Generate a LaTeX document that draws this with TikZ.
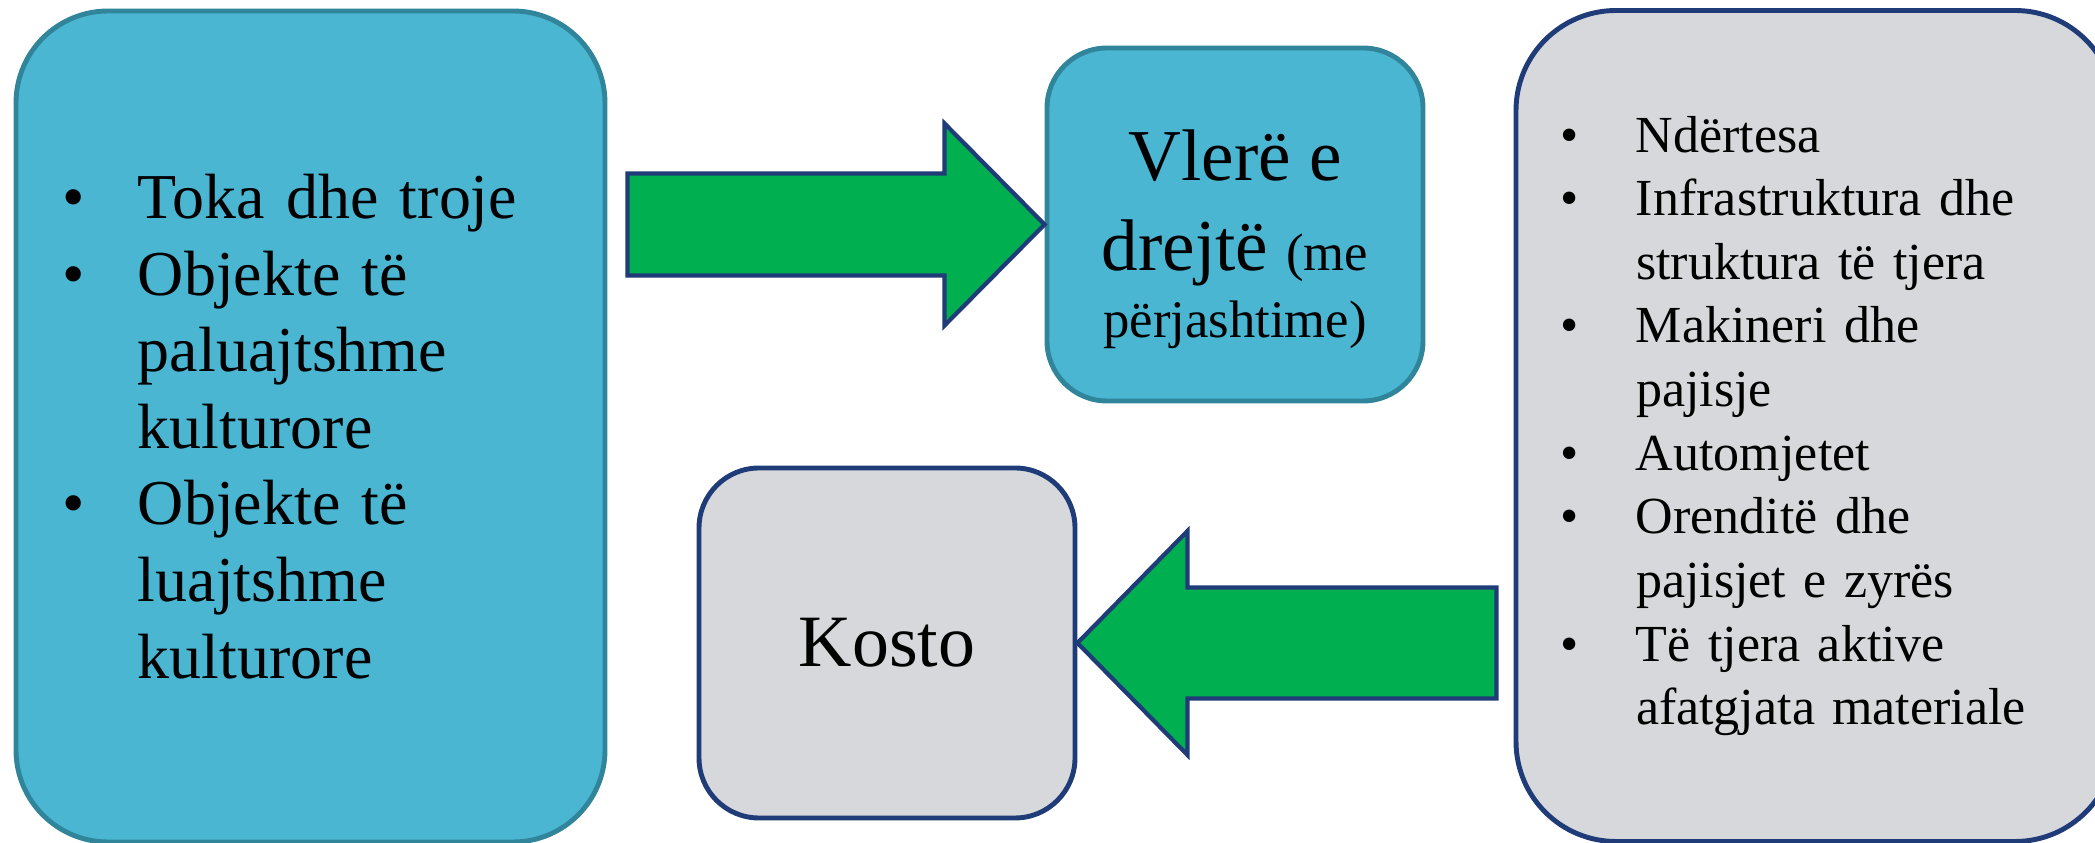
\documentclass[tikz,border=0pt]{standalone}
\usepackage{fontspec}
\setmainfont{Liberation Serif}
\usepackage{tikz}

\definecolor{aquafill}{RGB}{74,182,210}
\definecolor{aqualine}{RGB}{49,133,155}
\definecolor{greyfill}{RGB}{214,216,219}
\definecolor{navyline}{RGB}{31,60,120}
\definecolor{arrowgreen}{RGB}{0,176,80}

% bullet line and continuation line
\newcommand{\itm}[1]{\makebox[0.76cm][l]{\textbullet}#1}
\newcommand{\cnt}[1]{\hspace*{0.76cm}#1}

\begin{document}
\begin{tikzpicture}[
	bigbox/.style={draw, rectangle, line width=1.4pt, inner sep=0pt},
	bluebox/.style={bigbox, fill=aquafill, draw=aqualine},
	greybox/.style={bigbox, fill=greyfill, draw=navyline},
	blockarrow/.style={fill=arrowgreen, draw=navyline, line width=1.2pt}
	]
	\useasboundingbox (0,0) rectangle (20.95,8.43);
	\clip (0,0) rectangle (20.95,8.43);
	
	%-----------------------
	% Heights of the boxes
	%-----------------------
	\def\hleft{4.165}   % tall box, left
	\def\hright{4.17}   % tall box, right
	\def\htop{6.185}    % fair value box
	\def\hbot{2.0}      % cost box
	
	%-----------------------
	% Left: land and cultural objects
	%-----------------------
	\node[bluebox, minimum width=5.89cm, minimum height=8.31cm, rounded corners=0.92cm,
		text width=4.97cm, align=left, font=\fontsize{18.2}{21.8}\selectfont]
		(land) at (3.105,\hleft) {%
		\itm{Toka dhe troje}\\
		\itm{Objekte të}\\
		\cnt{paluajtshme}\\
		\cnt{kulturore}\\
		\itm{Objekte të}\\
		\cnt{luajtshme}\\
		\cnt{kulturore}};
	
	%-----------------------
	% Top middle: fair value
	%-----------------------
	\node[bluebox, minimum width=3.76cm, minimum height=3.53cm, rounded corners=0.6cm,
		align=center, font=\fontsize{20.8}{25.6}\selectfont]
		(vlere) at (12.35,\htop) {\rule{0pt}{23pt}Vlerë e\\
		drejtë {\fontsize{15}{18}\selectfont(me}\\[-6.6pt]
		{\fontsize{15}{18}\selectfont përjashtime)}};
	
	%-----------------------
	% Bottom middle: cost
	%-----------------------
	\node[greybox, minimum width=3.76cm, minimum height=3.50cm, rounded corners=0.6cm,
		font=\fontsize{21}{25}\selectfont]
		(kosto) at (8.87,\hbot) {Kosto};
	
	%-----------------------
	% Right: other fixed assets
	%-----------------------
	\node[greybox, minimum width=5.99cm, minimum height=8.31cm, rounded corners=1cm,
		text width=5.11cm, align=left, font=\fontsize{14.8}{18.1}\selectfont]
		(assets) at (18.155,\hright) {%
		\itm{Ndërtesa}\\
		\itm{Infrastruktura dhe}\\
		\cnt{struktura të tjera}\\
		\itm{Makineri dhe}\\
		\cnt{pajisje}\\
		\itm{Automjetet}\\
		\itm{Orenditë dhe}\\
		\cnt{pajisjet e zyrës}\\
		\itm{Të tjera aktive}\\
		\cnt{afatgjata materiale}};
	
	%-----------------------
	% Block arrows
	%-----------------------
	% land -> fair value
	\draw[blockarrow] (vlere.west) -- ++(-1.0,1.01) -- ++(0,-0.5) -- ++(-3.17,0)
		-- ++(0,-1.02) -- ++(3.17,0) -- ++(0,-0.5) -- cycle;
	% assets -> cost
	\draw[blockarrow] (kosto.east) -- ++(1.1,1.12) -- ++(0,-0.565) -- ++(3.09,0)
		-- ++(0,-1.11) -- ++(-3.09,0) -- ++(0,-0.565) -- cycle;
	
\end{tikzpicture}
\end{document}
